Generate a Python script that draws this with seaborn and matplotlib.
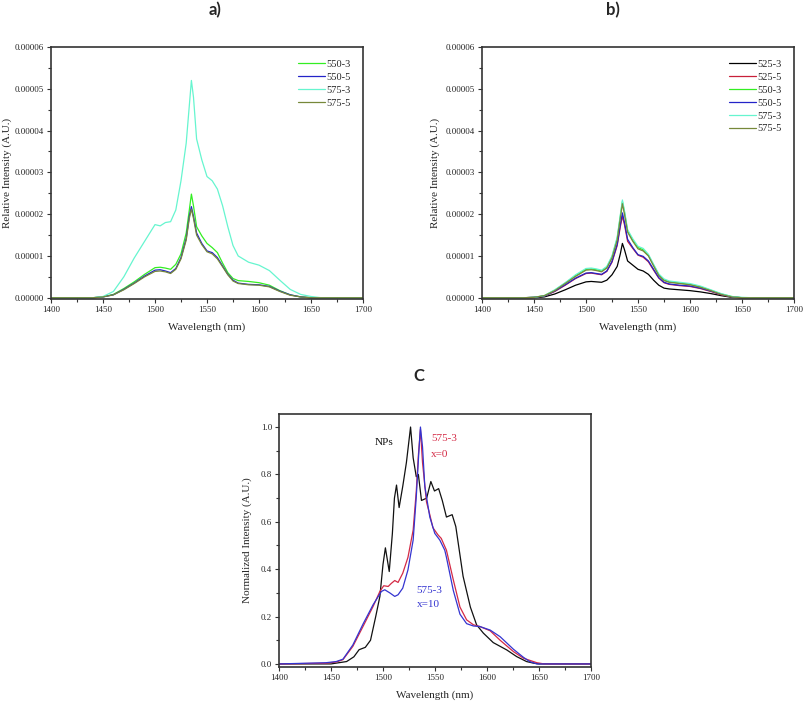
import numpy as np
import pandas as pd
import matplotlib
matplotlib.use('Agg')
import matplotlib.pyplot as plt
import seaborn as sns
from matplotlib.ticker import MultipleLocator, FormatStrFormatter

# wavelength grid (nm) used for panels a) and b)
wl = [1400, 1440, 1450, 1460, 1470, 1480, 1490, 1500, 1505, 1510, 1515, 1520, 1525, 1530, 1533,
      1535, 1537, 1540, 1545, 1550, 1555, 1560, 1565, 1570, 1575, 1580, 1590, 1600, 1610, 1620,
      1630, 1640, 1650, 1660, 1700]

# panel a) relative intensity, in units of 1e-5
a_550_3 = [0, 0, 0.02, 0.08, 0.22, 0.38, 0.56, 0.72, 0.73, 0.71, 0.68, 0.8, 1.05, 1.55, 2.1,
           2.48, 2.2, 1.7, 1.48, 1.3, 1.2, 1.08, 0.83, 0.6, 0.46, 0.41, 0.39, 0.36, 0.3, 0.17,
           0.07, 0.02, 0, 0, 0]
a_550_5 = [0, 0, 0.02, 0.07, 0.2, 0.35, 0.52, 0.66, 0.67, 0.64, 0.6, 0.7, 0.96, 1.42, 1.95,
           2.18, 1.95, 1.55, 1.3, 1.12, 1.08, 0.96, 0.76, 0.56, 0.42, 0.35, 0.32, 0.31, 0.27, 0.16,
           0.07, 0.02, 0, 0, 0]
a_575_3 = [0, 0, 0.03, 0.15, 0.5, 0.95, 1.35, 1.75, 1.72, 1.8, 1.82, 2.1, 2.8, 3.7, 4.6,
           5.2, 4.8, 3.8, 3.3, 2.9, 2.8, 2.6, 2.2, 1.7, 1.25, 1.0, 0.85, 0.78, 0.65, 0.42,
           0.2, 0.08, 0.03, 0, 0]
a_575_5 = [0, 0, 0.02, 0.07, 0.19, 0.34, 0.5, 0.63, 0.64, 0.62, 0.58, 0.68, 0.93, 1.38, 1.9,
           2.12, 1.9, 1.5, 1.27, 1.1, 1.05, 0.93, 0.74, 0.55, 0.4, 0.34, 0.31, 0.3, 0.26, 0.15,
           0.06, 0.02, 0, 0, 0]

# panel b) relative intensity, in units of 1e-5
b_525_3 = [0, 0, 0, 0.02, 0.09, 0.19, 0.3, 0.38, 0.39, 0.38, 0.37, 0.42, 0.55, 0.75, 1.05,
           1.3, 1.15, 0.88, 0.78, 0.68, 0.64, 0.56, 0.42, 0.3, 0.23, 0.21, 0.19, 0.17, 0.14, 0.1,
           0.05, 0.01, 0, 0, 0]
b_525_5 = [0, 0, 0.01, 0.04, 0.15, 0.3, 0.46, 0.58, 0.59, 0.57, 0.55, 0.63, 0.85, 1.25, 1.7,
           1.95, 1.75, 1.35, 1.18, 1.02, 0.97, 0.86, 0.66, 0.47, 0.36, 0.32, 0.29, 0.27, 0.22, 0.15,
           0.07, 0.02, 0, 0, 0]
b_550_3 = [0, 0, 0.01, 0.05, 0.18, 0.35, 0.53, 0.68, 0.69, 0.67, 0.64, 0.73, 0.98, 1.42, 1.95,
           2.3, 2.05, 1.6, 1.38, 1.2, 1.15, 1.02, 0.78, 0.55, 0.43, 0.38, 0.35, 0.32, 0.26, 0.18,
           0.09, 0.03, 0, 0, 0]
b_550_5 = [0, 0, 0.01, 0.04, 0.16, 0.31, 0.47, 0.59, 0.6, 0.58, 0.56, 0.64, 0.87, 1.28, 1.75,
           2.03, 1.8, 1.4, 1.2, 1.03, 0.99, 0.88, 0.68, 0.48, 0.37, 0.33, 0.3, 0.28, 0.23, 0.16,
           0.08, 0.02, 0, 0, 0]
b_575_3 = [0, 0, 0.01, 0.05, 0.19, 0.36, 0.55, 0.7, 0.71, 0.69, 0.66, 0.75, 1.0, 1.45, 1.98,
           2.34, 2.08, 1.63, 1.41, 1.23, 1.18, 1.04, 0.8, 0.57, 0.45, 0.4, 0.37, 0.34, 0.28, 0.19,
           0.1, 0.03, 0.01, 0, 0]
b_575_5 = [0, 0, 0.01, 0.05, 0.17, 0.34, 0.51, 0.66, 0.67, 0.65, 0.62, 0.71, 0.95, 1.38, 1.9,
           2.25, 2.0, 1.57, 1.35, 1.17, 1.12, 1.0, 0.76, 0.53, 0.41, 0.37, 0.34, 0.31, 0.25, 0.17,
           0.08, 0.02, 0, 0, 0]

# panel c) normalized intensity
nps_wl = [1400, 1450, 1465, 1472, 1477, 1483, 1488, 1493, 1497, 1500, 1502.3, 1506, 1509, 1511,
          1513, 1515.5, 1519, 1522.5, 1526.5, 1529, 1532, 1534, 1537, 1542, 1546, 1549.5, 1553.5,
          1557, 1561, 1566.5, 1570, 1577, 1584, 1590, 1596.5, 1606, 1619, 1628.5, 1638, 1645,
          1650, 1700]
nps = [0, 0, 0.01, 0.03, 0.06, 0.07, 0.1, 0.2, 0.285, 0.42, 0.49, 0.39, 0.55, 0.7,
       0.755, 0.66, 0.75, 0.85, 1.0, 0.87, 0.79, 0.8, 0.69, 0.7, 0.77, 0.73, 0.74,
       0.69, 0.62, 0.63, 0.58, 0.37, 0.24, 0.165, 0.13, 0.09, 0.059, 0.031, 0.01, 0.003,
       0, 0]
x0_wl = [1400, 1445, 1455, 1461.5, 1471, 1481, 1490.5, 1497, 1500.7, 1505, 1508, 1511.3, 1514.5,
         1519, 1524, 1529, 1532, 1534, 1536, 1538, 1541.8, 1545, 1548, 1553, 1556, 1561, 1567.6,
         1574, 1580.4, 1587, 1593, 1603, 1612.6, 1625.4, 1635, 1648, 1655, 1700]
x0 = [0, 0.003, 0.008, 0.018, 0.074, 0.16, 0.243, 0.306, 0.33, 0.327, 0.34, 0.352, 0.344,
      0.383, 0.45, 0.565, 0.73, 0.88, 0.99, 0.85, 0.684, 0.63, 0.575, 0.544, 0.53, 0.48, 0.355,
      0.24, 0.186, 0.165, 0.158, 0.14, 0.1, 0.052, 0.024, 0.005, 0, 0]
x10_wl = [1400, 1445, 1455, 1461.5, 1471, 1481, 1490.5, 1498.5, 1501.7, 1506.5, 1511.3, 1514.5,
          1519, 1524, 1529, 1532, 1534.4, 1536, 1538, 1540.2, 1545, 1549.8, 1554.6, 1559.4, 1561,
          1567.6, 1574, 1580.4, 1587, 1593, 1603, 1612.6, 1625.4, 1635, 1641, 1648, 1700]
x10 = [0, 0.005, 0.01, 0.02, 0.08, 0.17, 0.25, 0.306, 0.313, 0.3, 0.285, 0.292,
       0.32, 0.397, 0.523, 0.705, 0.89, 1.0, 0.916, 0.75, 0.62, 0.551, 0.523, 0.48, 0.45,
       0.31, 0.21, 0.17, 0.16, 0.158, 0.143, 0.115, 0.062, 0.028, 0.01, 0, 0]

colors = {'525-3': '#000000', '525-5': '#c8203a', '550-3': '#33ee22', '550-5': '#2323c8',
          '575-3': '#66f5cf', '575-5': '#77883a'}

sns.set_style('ticks')
plt.rcParams['font.family'] = ['Liberation Serif', 'DejaVu Serif']
plt.rcParams['axes.edgecolor'] = '#333333'
plt.rcParams['axes.linewidth'] = 1.2


def long_df(series):
    rows = []
    for name, (xs, ys) in series.items():
        for x, y in zip(xs, ys):
            rows.append({'Wavelength': x, 'Intensity': y, 'Sample': name})
    return pd.DataFrame(rows)


def style_axes(ax):
    ax.set_xlim(1400, 1700)
    ax.xaxis.set_major_locator(MultipleLocator(50))
    ax.xaxis.set_minor_locator(MultipleLocator(25))
    ax.tick_params(which='both', direction='out', labelsize=6.5, length=3, width=0.8,
                   color='#333333', pad=2)
    ax.tick_params(which='minor', length=2)
    ax.set_xlabel('Wavelength (nm)', fontsize=8, labelpad=6)


fig = plt.figure(figsize=(8.05, 7.06), dpi=100)

# panel a
ax1 = fig.add_axes([51/805, 1-299/706, 312/805, 252/706])
dfa = long_df({'550-3': (wl, a_550_3), '550-5': (wl, a_550_5),
               '575-3': (wl, a_575_3), '575-5': (wl, a_575_5)})
dfa['Intensity'] = dfa['Intensity'] * 1e-5
sns.lineplot(data=dfa, x='Wavelength', y='Intensity', hue='Sample', palette=colors,
             estimator=None, sort=False, linewidth=0.9, ax=ax1)
style_axes(ax1)
ax1.set_ylim(-3e-7, 6e-5)
ax1.yaxis.set_major_locator(MultipleLocator(1e-5))
ax1.yaxis.set_minor_locator(MultipleLocator(5e-6))
ax1.yaxis.set_major_formatter(FormatStrFormatter('%.5f'))
ax1.set_ylabel('Relative Intensity (A.U.)', fontsize=8, labelpad=2)
ax1.legend(frameon=False, loc='upper right', fontsize=7.5, handlelength=2.6,
           labelspacing=0.35, handletextpad=0.1, borderaxespad=0.8)

# panel b
ax2 = fig.add_axes([482/805, 1-299/706, 312/805, 252/706])
dfb = long_df({'525-3': (wl, b_525_3), '525-5': (wl, b_525_5), '550-3': (wl, b_550_3),
               '550-5': (wl, b_550_5), '575-3': (wl, b_575_3), '575-5': (wl, b_575_5)})
dfb['Intensity'] = dfb['Intensity'] * 1e-5
sns.lineplot(data=dfb, x='Wavelength', y='Intensity', hue='Sample', palette=colors,
             estimator=None, sort=False, linewidth=0.9, ax=ax2)
style_axes(ax2)
ax2.set_ylim(-3e-7, 6e-5)
ax2.yaxis.set_major_locator(MultipleLocator(1e-5))
ax2.yaxis.set_minor_locator(MultipleLocator(5e-6))
ax2.yaxis.set_major_formatter(FormatStrFormatter('%.5f'))
ax2.set_ylabel('Relative Intensity (A.U.)', fontsize=8, labelpad=4)
ax2.legend(frameon=False, loc='upper right', fontsize=7.5, handlelength=2.6,
           labelspacing=0.35, handletextpad=0.1, borderaxespad=0.8)

# panel c
ax3 = fig.add_axes([279/805, 1-667/706, 312/805, 253/706])
dfc = long_df({'NPs': (nps_wl, nps), 'x=0': (x0_wl, x0), 'x=10': (x10_wl, x10)})
sns.lineplot(data=dfc, x='Wavelength', y='Intensity', hue='Sample',
             palette={'NPs': '#111111', 'x=0': '#d42a45', 'x=10': '#3434d0'},
             estimator=None, sort=False, linewidth=0.9, legend=False, ax=ax3)
style_axes(ax3)
ax3.set_ylim(-0.013, 1.055)
ax3.yaxis.set_major_locator(MultipleLocator(0.2))
ax3.yaxis.set_minor_locator(MultipleLocator(0.1))
ax3.yaxis.set_major_formatter(FormatStrFormatter('%.1f'))
ax3.set_ylabel('Normalized Intensity (A.U.)', fontsize=8, labelpad=6)
ax3.text(1492, 0.935, 'NPs', fontsize=8, color='#111111', va='center')
ax3.text(1546, 0.95, '575-3', fontsize=8, color='#d42a45', va='center')
ax3.text(1546, 0.886, 'x=0', fontsize=8, color='#d42a45', va='center')
ax3.text(1532.5, 0.312, '575-3', fontsize=8, color='#3434d0', va='center')
ax3.text(1532.5, 0.249, 'x=10', fontsize=8, color='#3434d0', va='center')

# panel titles
fig.text(215/805, 1-10/706, 'a)', ha='center', va='center', fontsize=12, fontweight='bold', family='Lato')
fig.text(613/805, 1-10/706, 'b)', ha='center', va='center', fontsize=12, fontweight='bold', family='Lato')
fig.text(419/805, 1-376/706, 'C', ha='center', va='center', fontsize=12, fontweight='bold', family='Lato')

plt.savefig('out.png', dpi=100)
